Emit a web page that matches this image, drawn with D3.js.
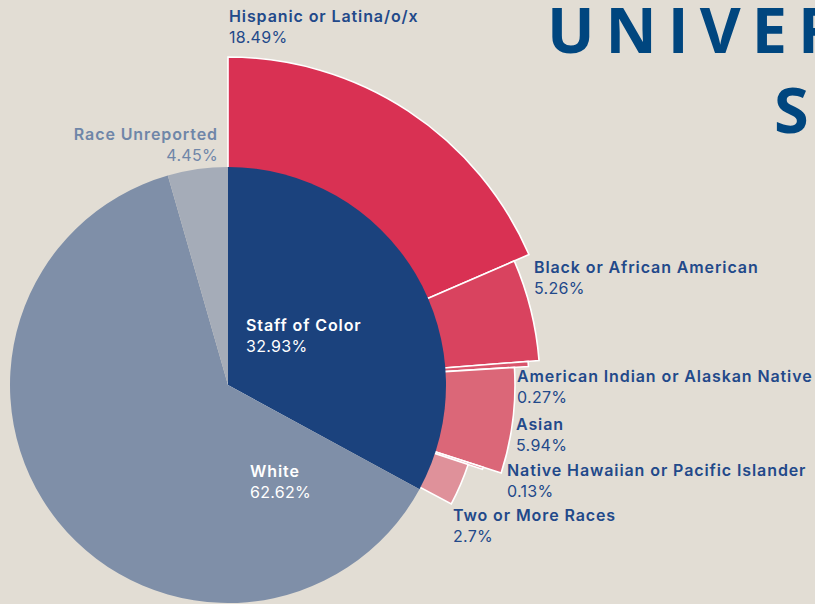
<!DOCTYPE html>
<html>
<head>
    <title>University Staff</title>
    <script src="https://d3js.org/d3.v7.min.js"></script>
    <style>
        body {
            margin: 0;
            background-color: #e2ddd4;
            overflow: hidden;
        }
        svg {
            display: block;
            font-family: Inter, "Open Sans", sans-serif;
        }
        .lbl-name {
            font-size: 16px;
            font-weight: 600;
            letter-spacing: 0.9px;
        }
        .lbl-val {
            font-size: 16px;
            font-weight: 400;
            letter-spacing: 0.3px;
        }
    </style>
</head>
<body>
    <svg width="815" height="604"></svg>

    <script>
        // Overall staff breakdown (inner pie)
        var mainCats = ["Staff of Color", "White", "Race Unreported"];
        var mainVals = [32.93, 62.62, 4.45];

        // Staff of Color breakdown (outer wedges)
        var subCats = ["Hispanic or Latina/o/x", "Black or African American",
            "American Indian or Alaskan Native", "Asian",
            "Native Hawaiian or Pacific Islander", "Two or More Races"];
        var subVals = [18.49, 5.26, 0.27, 5.94, 0.13, 2.7];

        var width = 815,
            height = 604,
            cx = 228,
            cy = 385,
            r = 218;

        var svg = d3.select("svg");

        svg.append("rect")
            .attr("width", width)
            .attr("height", height)
            .attr("fill", "#e2ddd4");

        // Title, cropped at the right edge like the original
        var title = svg.append("g")
            .attr("fill", "#00467f")
            .style("font-family", "'Open Sans', sans-serif")
            .style("font-weight", 700)
            .style("font-size", "63px")
            .style("letter-spacing", "11px");
        title.append("text").attr("x", 547).attr("y", 53).text("UNIVERSITY");
        title.append("text").attr("x", 774).attr("y", 133).text("STAFF");

        var g = svg.append("g")
            .attr("transform", "translate(" + cx + "," + cy + ")");

        // angle scale: percent of staff -> radians
        var angle = d3.scaleLinear().domain([0, 100]).range([0, 2 * Math.PI]);

        // outer wedge reach and colours
        var subOuter = [328, 312, 301, 287, 268, 253];
        var subColor = ["#d93153", "#d9435f", "#d9556c", "#db6778", "#dd7a88", "#df919a"];

        var cum = 0;
        var subArcs = subVals.map(function(v, i) {
            var a = { name: subCats[i], value: v, startAngle: angle(cum), endAngle: angle(cum + v), outer: subOuter[i], i: i };
            cum += v;
            return a;
        });

        var subArc = d3.arc()
            .innerRadius(0)
            .outerRadius(function(d) { return d.outer; });

        g.append("g")
            .selectAll("path")
            .data(subArcs)
            .enter().append("path")
            .attr("d", subArc)
            .attr("fill", function(d) { return subColor[d.i]; })
            .attr("stroke", "#ffffff")
            .attr("stroke-width", 1.6)
            .attr("stroke-linejoin", "miter");

        // inner pie
        var pie = d3.pie().sort(null).value(function(d) { return d; });
        var mainColor = ["#1b427d", "#7f8fa8", "#a5acb8"];
        var arc = d3.arc().innerRadius(0).outerRadius(r);

        g.append("g")
            .selectAll("path")
            .data(pie(mainVals))
            .enter().append("path")
            .attr("d", arc)
            .attr("fill", function(d, i) { return mainColor[i]; });

        // labels
        var labels = [
            { name: subCats[0], val: subVals[0], x: 229, y: 22, anchor: "start", color: "#22498a" },
            { name: subCats[1], val: subVals[1], x: 534, y: 273, anchor: "start", color: "#22498a" },
            { name: subCats[2], val: subVals[2], x: 517, y: 382, anchor: "start", color: "#22498a" },
            { name: subCats[3], val: subVals[3], x: 516, y: 430, anchor: "start", color: "#22498a" },
            { name: subCats[4], val: subVals[4], x: 507, y: 476, anchor: "start", color: "#22498a" },
            { name: subCats[5], val: subVals[5], x: 453, y: 521, anchor: "start", color: "#22498a" },
            { name: mainCats[0], val: mainVals[0], x: 246, y: 331, anchor: "start", color: "#ffffff" },
            { name: mainCats[1], val: mainVals[1], x: 250, y: 477, anchor: "start", color: "#ffffff" },
            { name: mainCats[2], val: mainVals[2], x: 218, y: 140, anchor: "end", color: "#6f86a8" }
        ];

        var lbl = svg.append("g")
            .selectAll("g")
            .data(labels)
            .enter().append("g")
            .attr("fill", function(d) { return d.color; })
            .attr("text-anchor", function(d) { return d.anchor; });

        lbl.append("text")
            .attr("class", "lbl-name")
            .attr("x", function(d) { return d.x; })
            .attr("y", function(d) { return d.y; })
            .text(function(d) { return d.name; });

        lbl.append("text")
            .attr("class", "lbl-val")
            .attr("x", function(d) { return d.x; })
            .attr("y", function(d) { return d.y + 21; })
            .text(function(d) { return d.val + "%"; });
    </script>
</body>
</html>
